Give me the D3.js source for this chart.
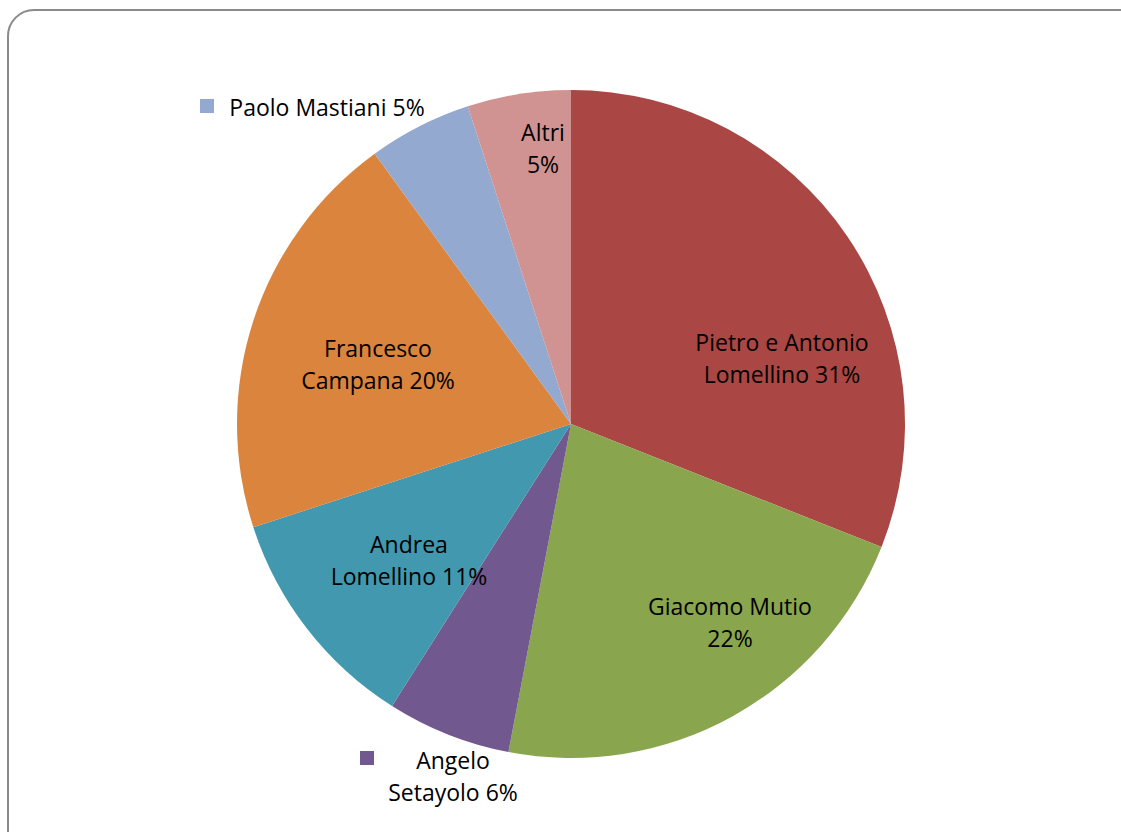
<!DOCTYPE html>
<html><head><meta charset="utf-8">
<script src="https://cdn.jsdelivr.net/npm/d3@7"></script>
<style>body{margin:0;background:#fff;} text{font-family:"Open Sans",Lato,sans-serif;}</style>
</head><body>
<svg id="c" width="1121" height="832"></svg>
<script>
const categories = ["Pietro e Antonio Lomellino","Giacomo Mutio","Angelo Setayolo","Andrea Lomellino","Francesco Campana","Paolo Mastiani","Altri"];
const values = [31, 22, 6, 11, 20, 5, 5];
const colors = ["#AA4643","#89A54E","#71588F","#4198AF","#DB843D","#93A9CF","#D19392"];
const labelLines = [["Pietro e Antonio","Lomellino 31%"],["Giacomo Mutio","22%"],["Angelo","Setayolo 6%"],["Andrea","Lomellino 11%"],["Francesco","Campana 20%"],["Paolo Mastiani 5%"],["Altri","5%"]];
const labelPos = [[782,342],[730,606],[453,760],[409,544],[378,348],[327,107],[543,132]];
const legendKey = [null,null,[367,758],null,null,[207,106],null];

const svg = d3.select("#c");
svg.append("rect").attr("x",8).attr("y",10).attr("width",1140).attr("height",850)
  .attr("rx",26).attr("fill","#fff").attr("stroke","#8a8a8a").attr("stroke-width",2);

const cx=571, cy=424, R=334;
const pie = d3.pie().sort(null).value(d=>d)(values);
const arc = d3.arc().innerRadius(0).outerRadius(R);
const g = svg.append("g").attr("transform",`translate(${cx},${cy})`);
g.selectAll("path").data(pie).join("path").attr("d",arc).attr("fill",(d,i)=>colors[i]);

labelLines.forEach((lines,i)=>{
  const [x,y]=labelPos[i];
  const t = svg.append("text").attr("x",x).attr("y",y).attr("text-anchor","middle")
    .attr("font-size",23).attr("fill","#000").attr("dominant-baseline","central");
  lines.forEach((l,j)=>t.append("tspan").attr("x",x).attr("dy",j?32:0).text(l));
  if(legendKey[i]){
    const [kx,ky]=legendKey[i];
    svg.append("rect").attr("x",kx-7).attr("y",ky-7).attr("width",14).attr("height",14).attr("fill",colors[i]);
  }
});
</script></body></html>
